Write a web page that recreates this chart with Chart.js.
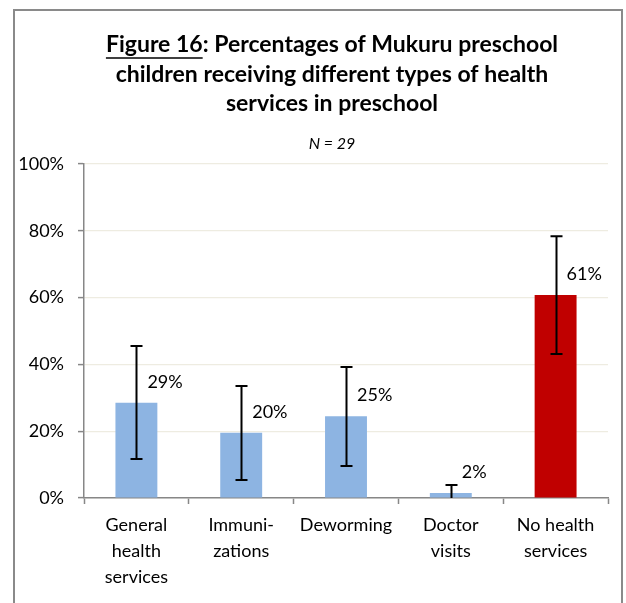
<!DOCTYPE html>
<html>
<head>
<meta charset="utf-8">
<title>Figure 16</title>
<script src="https://cdn.jsdelivr.net/npm/chart.js@4"></script>
<style>
    html, body { margin: 0; padding: 0; background: #fff; }
    #wrap { width: 626px; height: 603px; }
</style>
</head>
<body>
<div id="wrap"><canvas id="healthChart" width="626" height="603"></canvas></div>
<script>
// Daten
const categories = [
    ["General", "health", "services"],
    ["Immuni-", "zations"],
    ["Deworming"],
    ["Doctor", "visits"],
    ["No health", "services"]
];
const percentValues = [28.5, 19.5, 24.5, 1.5, 60.8];
const errorLow = [11.7, 5.4, 9.6, 0, 43.1];
const errorHigh = [45.5, 33.5, 39.2, 3.9, 78.4];
const barColors = ["#8DB4E2", "#8DB4E2", "#8DB4E2", "#8DB4E2", "#C00000"];
const yTicks = [0, 20, 40, 60, 80, 100];

const titleLines = [
    "Figure 16: Percentages of Mukuru preschool",
    "children receiving different types of health",
    "services in preschool"
];
const subtitleText = "N = 29";

const FONT = "Lato, 'Open Sans', sans-serif";
const AXIS_GREY = "#878787";

// ==========================================
// Rahmen, Titel, Fehlerbalken, Beschriftungen
// ==========================================
const decorPlugin = {
    id: "decor",
    beforeDraw(chart) {
        const ctx = chart.ctx;
        ctx.save();
        ctx.fillStyle = "#fff";
        ctx.fillRect(0, 0, chart.width, chart.height);
        ctx.strokeStyle = "#8a8a8a";
        ctx.lineWidth = 2;
        ctx.strokeRect(14, 10, 608, 700);
        ctx.restore();
    },
    afterDraw(chart) {
        const ctx = chart.ctx;
        const cx = 332;
        ctx.save();

        // Titel
        ctx.fillStyle = "#000";
        ctx.textAlign = "center";
        ctx.textBaseline = "middle";
        ctx.font = "bold 23px " + FONT;
        const lineYs = [45, 75, 104];
        titleLines.forEach((line, i) => ctx.fillText(line, cx, lineYs[i]));

        // "Figure 16" unterstreichen
        const fullW = ctx.measureText(titleLines[0]).width;
        const partW = ctx.measureText("Figure 16").width;
        const startX = cx - fullW / 2;
        ctx.strokeStyle = "#000";
        ctx.lineWidth = 1.5;
        ctx.beginPath();
        ctx.moveTo(startX, lineYs[0] + 13);
        ctx.lineTo(startX + partW, lineYs[0] + 13);
        ctx.stroke();

        ctx.font = "italic 16px " + FONT;
        ctx.fillText(subtitleText, cx, 144);

        // Fehlerbalken
        const meta = chart.getDatasetMeta(0);
        const yScale = chart.scales.y;
        ctx.strokeStyle = "#000";
        ctx.lineWidth = 2;
        meta.data.forEach((bar, i) => {
            const x = Math.round(bar.x) + 0.5;
            const yLo = yScale.getPixelForValue(errorLow[i]);
            const yHi = yScale.getPixelForValue(errorHigh[i]);
            ctx.beginPath();
            ctx.moveTo(x, yLo);
            ctx.lineTo(x, yHi);
            ctx.moveTo(x - 6, yHi);
            ctx.lineTo(x + 6, yHi);
            if (errorLow[i] > 0) {
                ctx.moveTo(x - 6, yLo);
                ctx.lineTo(x + 6, yLo);
            }
            ctx.stroke();
        });

        // Werte-Beschriftungen
        ctx.fillStyle = "#000";
        ctx.font = "18px " + FONT;
        ctx.textAlign = "left";
        meta.data.forEach((bar, i) => {
            const label = Math.round(percentValues[i]) + "%";
            ctx.fillText(label, bar.x + 11, bar.y - 21);
        });

        ctx.restore();
    }
};

const ctxHealth = document.getElementById("healthChart").getContext("2d");
new Chart(ctxHealth, {
    type: "bar",
    data: {
        labels: categories,
        datasets: [{
            data: percentValues,
            backgroundColor: barColors,
            borderWidth: 0,
            barPercentage: 0.4,
            categoryPercentage: 1.0
        }]
    },
    options: {
        responsive: false,
        animation: false,
        devicePixelRatio: 1,
        layout: { padding: { top: 164, right: 18, left: 0, bottom: 0 } },
        plugins: {
            legend: { display: false },
            tooltip: { enabled: false }
        },
        scales: {
            x: {
                grid: {
                    display: true,
                    drawOnChartArea: false,
                    drawTicks: true,
                    tickLength: 6,
                    tickColor: AXIS_GREY,
                    tickWidth: 1.5
                },
                border: { color: AXIS_GREY, width: 1.5 },
                ticks: {
                    color: "#000",
                    padding: 8,
                    maxRotation: 0,
                    autoSkip: false,
                    font: { family: FONT, size: 18, lineHeight: 1.45 }
                },
                afterFit: (scale) => { scale.height = 105; }
            },
            y: {
                min: 0,
                max: 100,
                afterBuildTicks: (scale) => {
                    scale.ticks = yTicks.map(v => ({ value: v }));
                },
                grid: {
                    color: "#EEECE1",
                    lineWidth: 1.2,
                    tickColor: AXIS_GREY,
                    tickLength: 6,
                    tickWidth: 1.5
                },
                border: { color: AXIS_GREY, width: 1.5 },
                ticks: {
                    color: "#000",
                    padding: 14,
                    font: { family: FONT, size: 18 },
                    callback: (v) => v + "%"
                },
                afterFit: (scale) => { scale.width = 84; }
            }
        }
    },
    plugins: [decorPlugin]
});
</script>
</body>
</html>
